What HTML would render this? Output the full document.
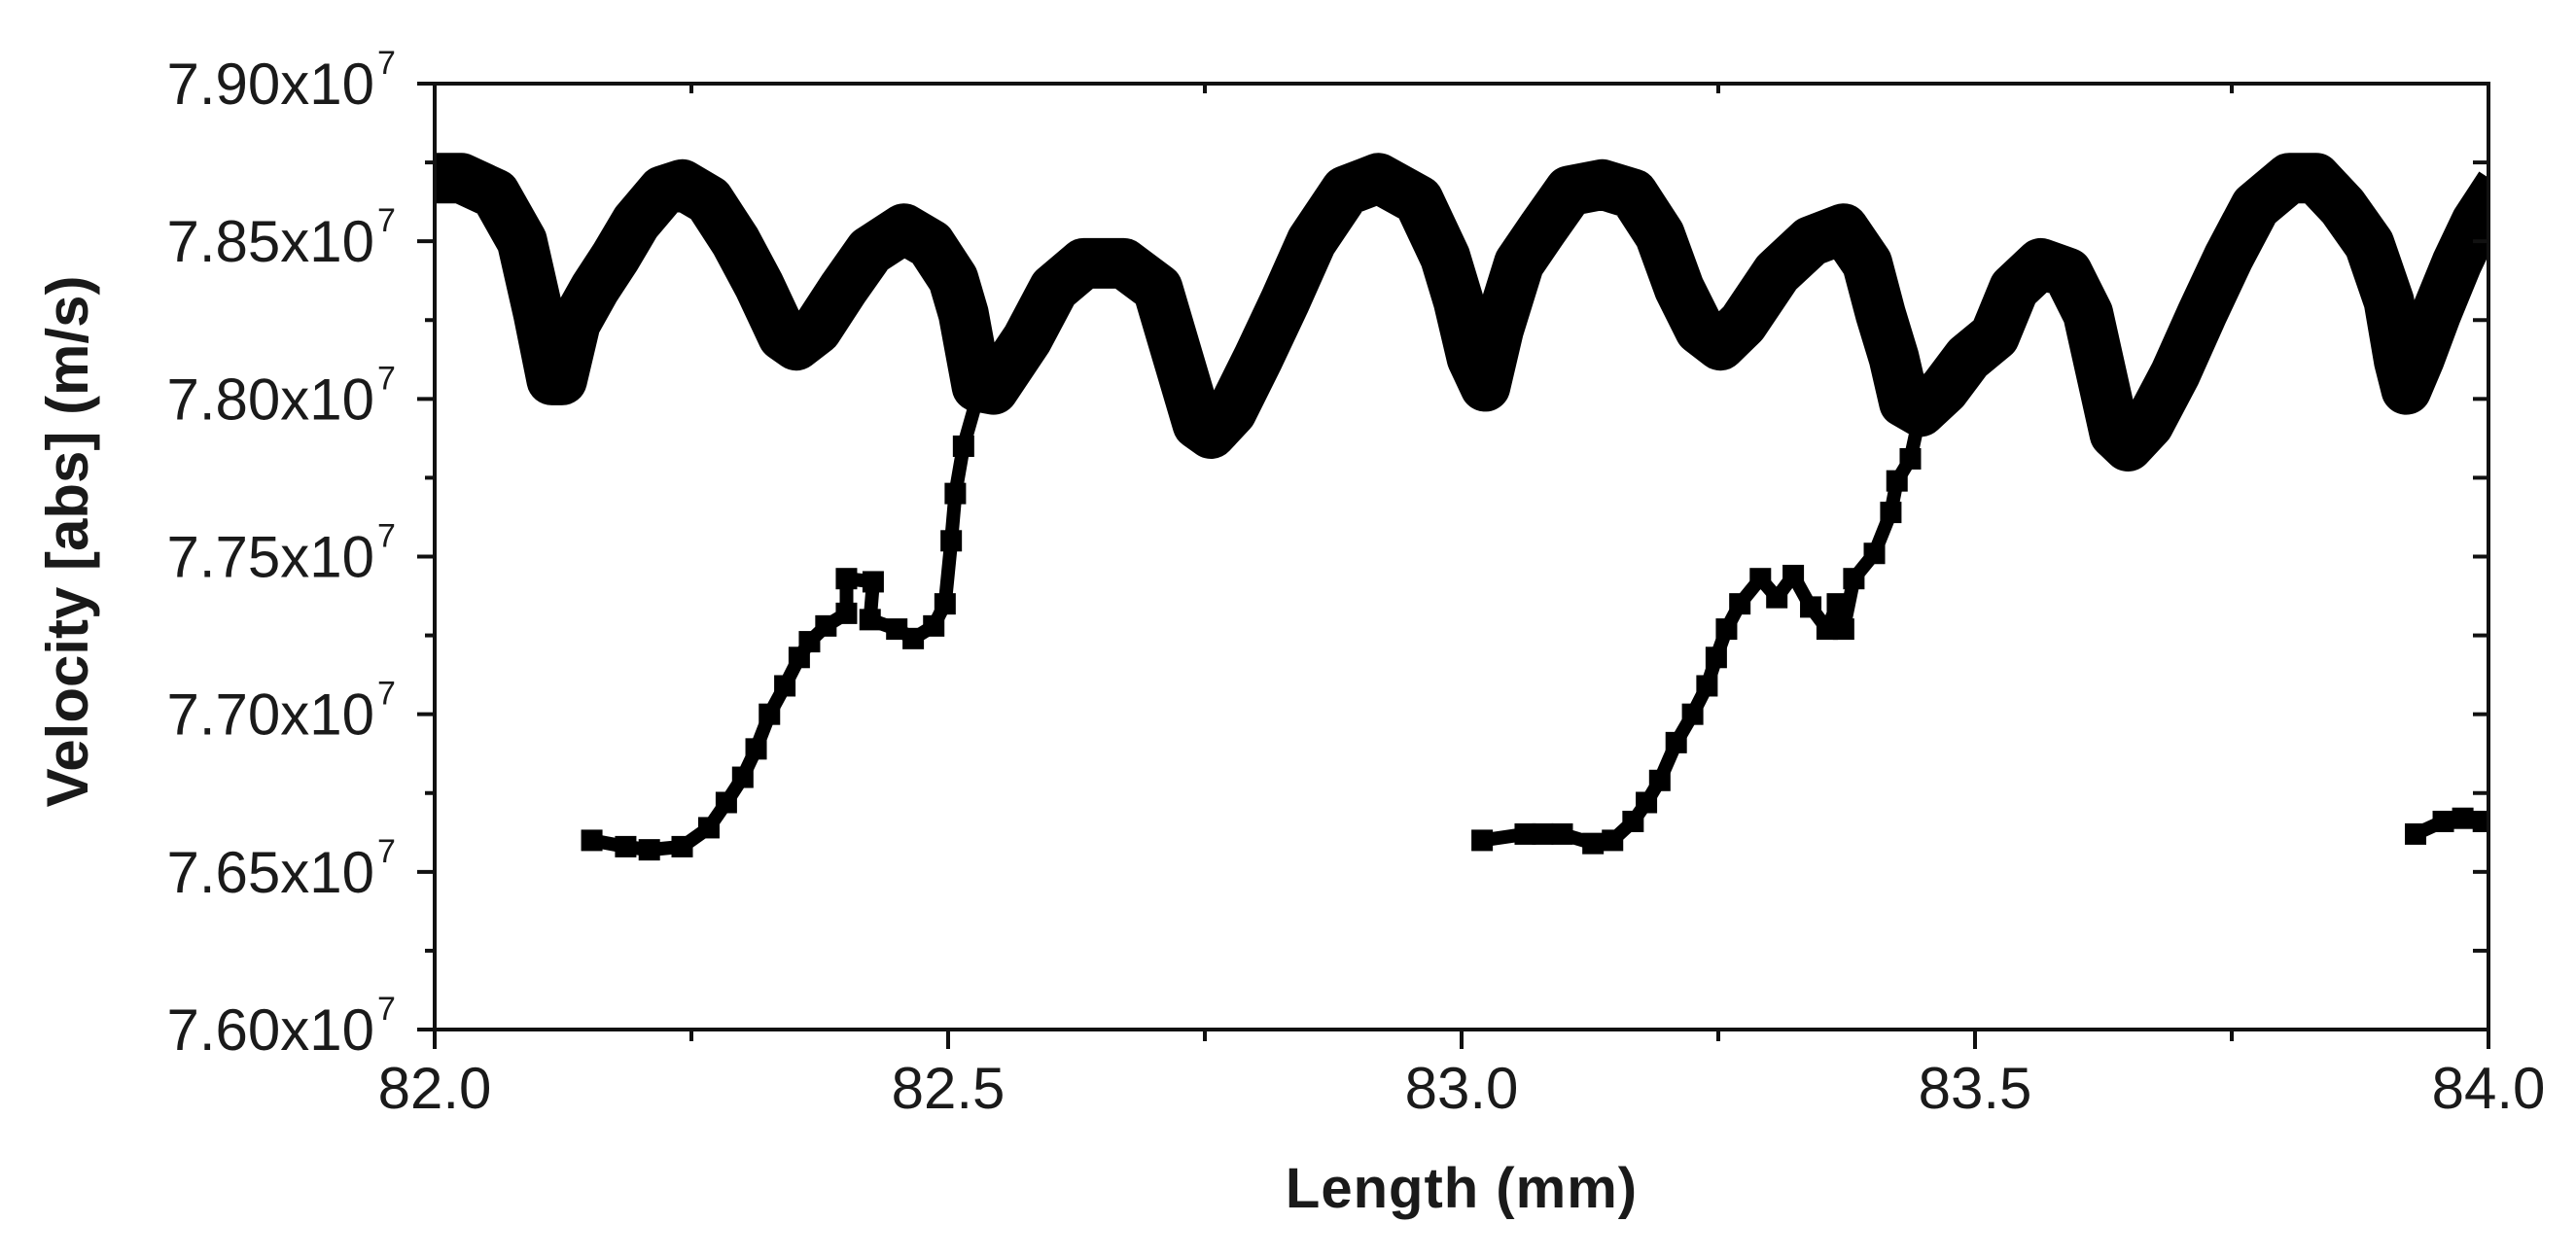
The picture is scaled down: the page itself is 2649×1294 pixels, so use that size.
<!DOCTYPE html>
<html>
<head>
<meta charset="utf-8">
<style>
html,body{margin:0;padding:0;background:#fff;}
svg{display:block;}
text{font-family:"Liberation Sans",Arial,sans-serif;fill:#1a1a1a;}
</style>
</head>
<body>
<svg id="chart" width="2649" height="1294" viewBox="0 0 2649 1294" xmlns="http://www.w3.org/2000/svg">
  <defs><clipPath id="plotclip"><rect x="447" y="86" width="2112" height="973"/></clipPath></defs>
  <g id="marks" clip-path="url(#plotclip)"></g>
  <g id="axes"></g>
  <text x="1503" y="1242" text-anchor="middle" font-size="58" font-weight="bold" letter-spacing="1">Length (mm)</text>
  <text transform="translate(90,557) rotate(-90)" text-anchor="middle" font-size="60" font-weight="bold">Velocity [abs] (m/s)</text>
</svg>
<script>
// ---- data (x in mm, y in units of 1e7 m/s) ----
const upperX = [82.000,82.026,82.059,82.085,82.101,82.114,82.124,82.137,82.156,82.176,82.196,82.222,82.241,82.267,82.293,82.316,82.339,82.352,82.372,82.398,82.424,82.457,82.483,82.505,
  82.515,82.528,82.544,82.577,82.603,82.632,82.671,82.704,82.724,82.743,82.756,82.776,82.802,82.828,82.854,82.887,82.919,82.958,82.984,
  82.997,83.010,83.023,83.036,83.056,83.079,83.105,83.137,83.167,83.193,83.212,83.232,83.252,83.274,83.307,83.340,83.372,83.395,83.408,83.421,83.431,83.447,83.470,83.493,
  83.519,83.538,83.564,83.590,83.610,83.623,83.636,83.649,83.669,83.695,83.721,83.747,83.773,83.806,83.832,83.858,83.884,83.903,83.913,83.920,83.933,83.949,83.969,83.988,83.998];
const upperY = [7.870,7.870,7.865,7.850,7.827,7.806,7.806,7.824,7.835,7.845,7.856,7.866,7.868,7.863,7.850,7.836,7.820,7.817,7.822,7.835,7.847,7.854,7.849,7.838,
  7.827,7.804,7.803,7.819,7.835,7.843,7.843,7.835,7.813,7.792,7.789,7.796,7.813,7.831,7.850,7.866,7.870,7.863,7.845,
  7.831,7.813,7.804,7.822,7.843,7.854,7.866,7.868,7.865,7.852,7.835,7.822,7.817,7.824,7.840,7.850,7.854,7.843,7.827,7.813,7.799,7.796,7.803,7.813,
  7.820,7.835,7.843,7.840,7.827,7.808,7.789,7.785,7.792,7.808,7.827,7.845,7.861,7.870,7.870,7.861,7.849,7.831,7.812,7.803,7.813,7.827,7.843,7.856,7.861];
const lower1X = [82.153,82.186,82.209,82.241,82.267,82.284,82.300,82.313,82.326,82.341,82.355,82.365,82.381,82.401,82.401,82.427,82.424,82.450,82.466,82.486,82.497,82.503,82.507,82.515,82.528,82.544];
const lower1Y = [7.660,7.658,7.657,7.658,7.664,7.672,7.680,7.689,7.700,7.709,7.718,7.723,7.728,7.732,7.743,7.742,7.730,7.727,7.724,7.728,7.735,7.755,7.770,7.785,7.800,7.805];
const lower2X = [83.020,83.062,83.079,83.098,83.128,83.147,83.167,83.180,83.193,83.209,83.225,83.239,83.248,83.258,83.271,83.291,83.307,83.323,83.340,83.356,83.366,83.372,83.382,83.402,83.418,83.424,83.437,83.447];
const lower2Y = [7.660,7.662,7.662,7.662,7.659,7.660,7.666,7.672,7.679,7.691,7.700,7.709,7.718,7.727,7.735,7.743,7.737,7.744,7.734,7.727,7.735,7.727,7.743,7.751,7.764,7.774,7.781,7.796];
const lower3X = [83.929,83.956,83.975,83.995];
const lower3Y = [7.662,7.666,7.667,7.666];
const xTickLabels = ["82.0","82.5","83.0","83.5","84.0"];
const yTickLabels = ["7.60","7.65","7.70","7.75","7.80","7.85","7.90"];

// ---- axes geometry ----
const L=447, R=2559, T=86, B=1059;
const xMin=82, xMax=84, yMin=7.60, yMax=7.90;
const sx = v => L + (v-xMin)/(xMax-xMin)*(R-L);
const sy = v => B - (v-yMin)/(yMax-yMin)*(B-T);
const NS='http://www.w3.org/2000/svg';
const marks=document.getElementById('marks');
const axes=document.getElementById('axes');
function mk(tag, attrs, parent){const e=document.createElementNS(NS,tag);for(const k in attrs)e.setAttribute(k,attrs[k]);parent.appendChild(e);return e;}

function drawSeries(xs, ys, name, band, sq){
  const g=mk('g',{},marks);
  
  
  const pts=xs.map((x,i)=>sx(x).toFixed(1)+','+sy(ys[i]).toFixed(1)).join(' ');
  if(band>0){
    const pl=mk('polyline',{points:pts,fill:'none',stroke:'#000','stroke-width':band,'stroke-linejoin':'round','stroke-linecap':'square'},g);
    
    
  }
  xs.forEach((x,i)=>{
    const r=mk('rect',{x:sx(x)-sq/2,y:sy(ys[i])-sq/2,width:sq,height:sq,fill:'#000'},g);
    
    
  });
}
drawSeries(upperX, upperY, 'upper-velocity-series', 52, 30);
drawSeries(lower1X, lower1Y, 'lower-velocity-series-1', 14, 22);
drawSeries(lower2X, lower2Y, 'lower-velocity-series-2', 14, 22);
drawSeries(lower3X, lower3Y, 'lower-velocity-series-3', 14, 22);

// frame
const fr=mk('rect',{x:L,y:T,width:R-L,height:B-T,fill:'none',stroke:'#111','stroke-width':4},axes);



// x ticks
xTickLabels.forEach((lab,i)=>{
  const v=xMin+i*0.5, x=sx(v);
  const t=mk('line',{x1:x,y1:B,x2:x,y2:B+20,stroke:'#111','stroke-width':4},axes);
  
  
  const tx=mk('text',{x:x,y:1140,'text-anchor':'middle','font-size':60},axes);
  tx.textContent=lab;
  
  
  if(i<xTickLabels.length-1){
    const xm=sx(v+0.25);
    const m=mk('line',{x1:xm,y1:B,x2:xm,y2:B+12,stroke:'#111','stroke-width':4},axes);
    
    
    const mt=mk('line',{x1:xm,y1:T,x2:xm,y2:T+10,stroke:'#111','stroke-width':4},axes);
    
    
  }
});
// y ticks
yTickLabels.forEach((lab,i)=>{
  const v=yMin+i*0.05, y=sy(v);
  const t=mk('line',{x1:L-18,y1:y,x2:L,y2:y,stroke:'#111','stroke-width':4},axes);
  
  
  const tr=mk('line',{x1:R-16,y1:y,x2:R,y2:y,stroke:'#111','stroke-width':4},axes);
  
  
  const tx=mk('text',{x:385,y:y+21,'text-anchor':'end','font-size':60},axes);
  tx.textContent=lab+'x10';
  
  
  const sup=mk('text',{x:388,y:y-10,'font-size':34},axes);
  sup.textContent='7';
  
  
  if(i<yTickLabels.length-1){
    const ym=sy(v+0.025);
    const m=mk('line',{x1:L-10,y1:ym,x2:L,y2:ym,stroke:'#111','stroke-width':4},axes);
    
    
    const mr=mk('line',{x1:R-16,y1:ym,x2:R,y2:ym,stroke:'#111','stroke-width':4},axes);
    
    
  }
});
</script>
</body>
</html>
